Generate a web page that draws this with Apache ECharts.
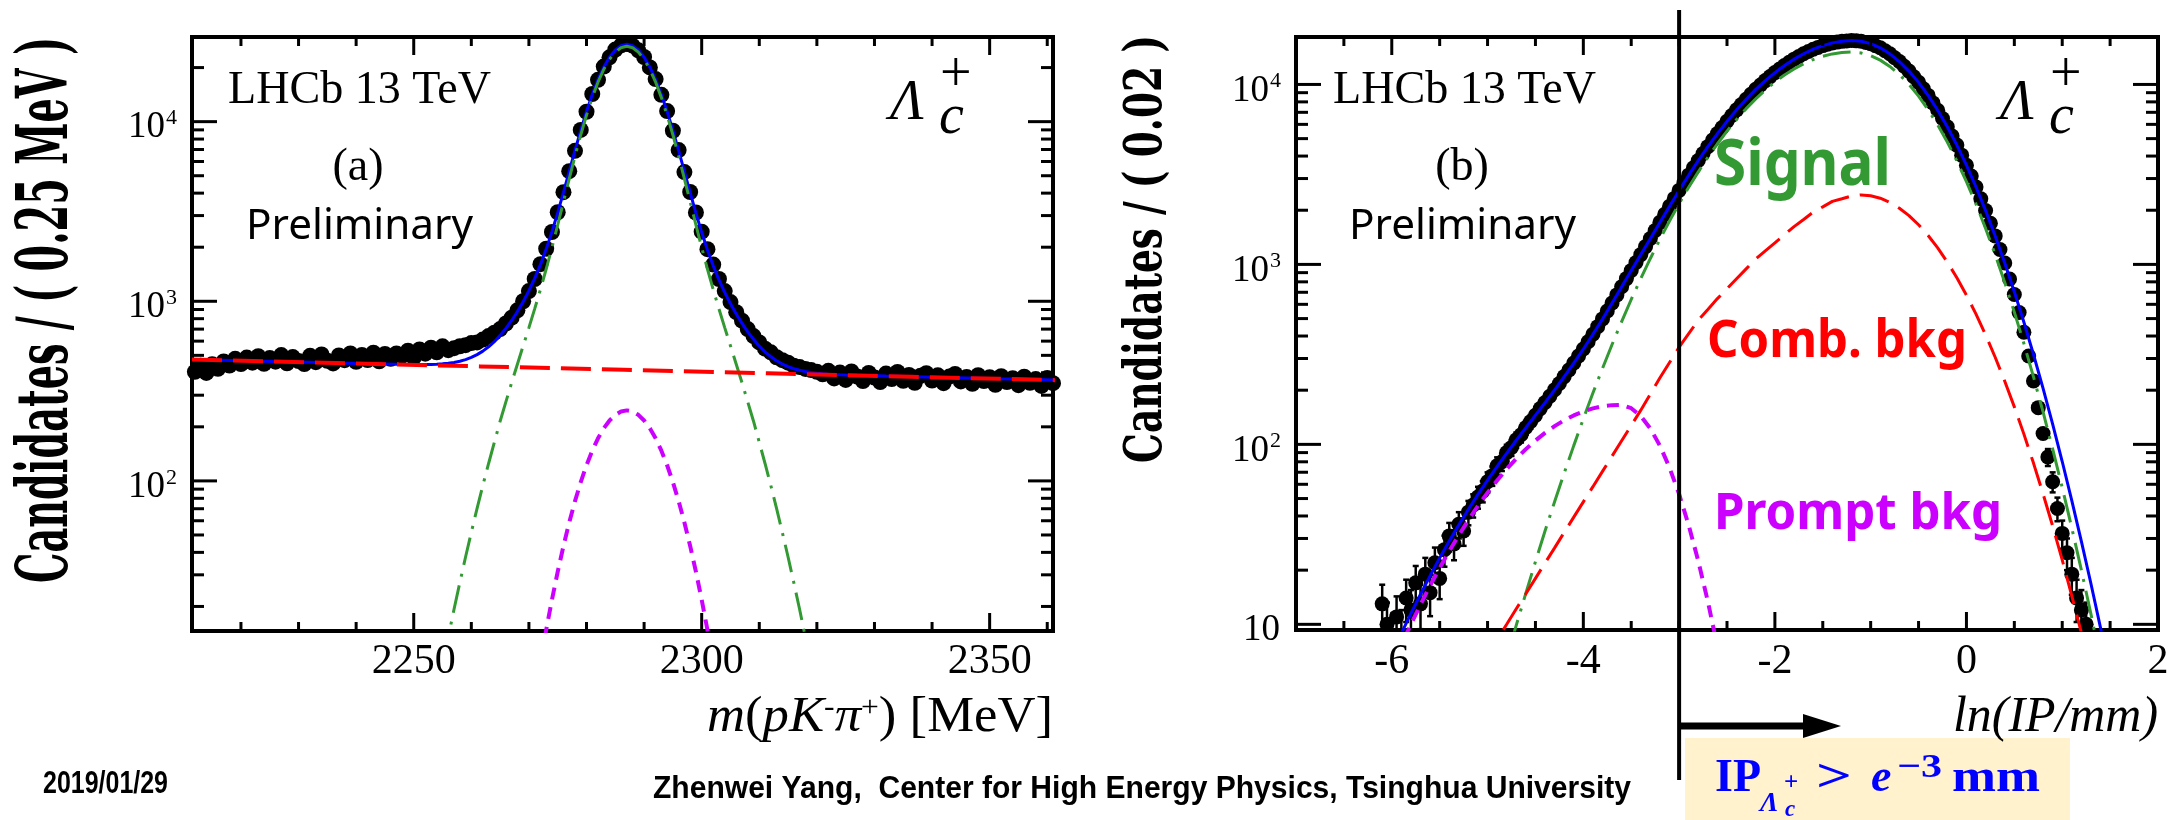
<!DOCTYPE html>
<html>
<head>
<meta charset="utf-8">
<title>Lambda_c+ fits</title>
<script src="https://cdn.jsdelivr.net/npm/echarts@6.0.0/dist/echarts.min.js"></script>
<style>
html,body{margin:0;padding:0;background:#ffffff;}
#chart{width:2174px;height:820px;}
</style>
</head>
<body>
<div id="chart"></div>
<script>
// ================= DATA =================
// ---- panel (a): m(pK-pi+) [MeV] ----
const massBinStart = 2212;
const massBinStep = 1;
const massCounts = [
  405,438,399,446,421,462,439,478,447,486,455,495,449,483,461,502,452,489,465,447,497,458,506,466,451,499,470,512,460,503,471,517,463,509,478,
  512,497,531,486,539,511,552,520,561,534,
  548,562,570,585,590,612,640,668,700,752,810,890,1000,1140,1330,1610,1960,2430,3130,4050,5300,6880,8990,11350,14250,17100,20250,22800,25200,26600,
  27100,
  26500,24950,22900,20050,17250,14100,11450,8900,6950,5240,4060,3120,2440,1950,1600,1330,1140,990,870,780,700,640,590,545,520,488,470,455,438,430,420,414,405,392,
  410,372,401,365,407,381,360,399,376,355,396,369,404,361,389,352,385,398,362,387,350,381,394,358,379,347,388,360,378,343,383,355,373,341,380,352,369,338,374,350
];
const massFitX = [
  2211.5,2222,2232,2242,
  2247,2248,2249,2250,2251,2252,2253,2254,2255,2256,2257,2258,2259,2260,2261,2262,2263,2264,2265,2266,2267,2268,2269,2270,2271,2272,2273,2274,2275,2276,2277,2278,2279,2280,2281,2282,2283,2284,2285,2286,
  2287,
  2288,2289,2290,2291,2292,2293,2294,2295,2296,2297,2298,2299,2300,2301,2302,2303,2304,2305,2306,2307,2308,2309,2310,2311,2312,2313,2314,2315,2316,2317,2318,2319,2320,2321,2322,2323,2324,2325,2326,2327,
  2332,2342,2352,2361.5
];
const massFitTotal = [
  474,465,457,449,
  445.5,445.0,444.4,444.1,444.0,444.2,444.9,446.2,448.3,451.7,456.7,463.7,473.5,486.8,504.6,527.9,557.8,596,646.2,705.8,782.0,876.7,995.2,1144.8,1339.9,1598.7,1952,2439,3114,4040,5286,6910,8949,11392,14177,17171,20144,22854,25050,26469,
  26962,
  26468,25047,22850,20138,17164,14168,11382,8938,6896,5271,4024,3096,2420,1932,1577,1316,1120,969,849,753.6,675.1,614,562.4,522.7,491.3,466.5,447.2,432.5,421.2,412.7,406.2,401.4,397.8,395.0,392.9,391.2,389.9,388.7,387.7,386.8,
  383.2,376.5,369.9,364
];
const massSignalStart = 2252;
const massSignal = [
  2.9,4.4,6.5,9.4,13.5,19.3,27.1,37.7,51.7,70.3,94.4,125,164,214.9,275.3,352.3,446.4,564.7,713.5,907,1163,1512,1993,2659,3574,4805,6411,8430,10850,13610,16580,19530,22220,24400,25810,
  26300,
  25810,24400,22220,19530,16580,13610,10850,8430,6411,4805,3574,2659,1993,1512,1163,907,713.5,564.7,446.4,352.3,275.3,214.9,164,125,94.4,70.3,51.7,37.7,27.1,19.3,13.5,9.4,6.5,4.4,2.9
];
const massPromptStart = 2271;
const massPrompt = [6.2,9.7,14.8,21.8,31.2,43.4,58.7,77.1,98.5,122.2,147.3,172.5,196.3,217,233.2,243.5,247,243.5,233.2,217,196.3,172.5,147.3,122.2,98.5,77.1,58.7,43.4,31.2,21.8,14.8,9.7,6.2];
const massCombX = [2211.5,2236.5,2261.5,2286.5,2311.5,2336.5,2361.5];
const massComb = [474,453.5,434,415.2,397.3,380.1,363.7];

// ---- panel (b): ln(IP/mm) ----
const ipBinStart = -6.15;
const ipBinStep = 0.05;
const ipCounts = [
  6,13,10,8,11,9,14,12,17,13,19,15,22,18,26,31,28,36,33,42,46,51,55,62,67,76,80,90,96,106,113,124,134,
  145,158,171,185,201,218,238,259,283,310,339,372,409,451,498,551,610,677,751,834,925,1024,1134,1256,1392,1544,1713,1898,2102,2327,2577,
  2841,3132,3440,3779,4129,4512,4906,5334,5769,6240,6715,7226,7735,8280,8818,9390,9932,10506,11058,11638,12182,12752,13276,13822,14306,14808,15246,15700,16065,16439,16727,17019,17187,17357,17446,17535,17463,17392,17121,16855,
  16413,15983,15381,14802,14084,13402,12611,11866,11040,10271,9449,8692,7896,7192,6468,5817,5173,4601,4047,3559,3095,2692,2315,1991,1693,1440,1211,1019,830,680,540,420,310,225,160,115,
  85,62,44,32,25,19,14,12,10
];
const ipErrLow = [2.4,3.6,3.2,2.8,3.3,3.0,3.7,3.5,4.1,3.6,4.4,3.9,4.7,4.2,5.1,5.6,5.3,6.0,5.7,6.5,6.8,7.1,7.4,7.9,8.2,8.7,8.9,9.5,9.8,10.3,10.6,11.1,11.6];
const ipErrHigh = [9.2,7.9,6.6,5.7,5.0,4.4,3.7,3.5,3.2];
const ipFitStart = -6.2;
const ipFitStep = 0.1;
const ipFitTotal = [
  3.9,5.2,6.8,8.9,11.5,14.7,18.6,23.4,29.0,35.7,
  43.6,52.7,63.3,75.4,89.4,105.4,123.8,145.3,170.7,200.9,
  237.7,282.6,338.9,409.4,497.8,610.2,751.3,924.6,1134,1392,
  1713,2102,2577,3132,3779,4512,5334,6240,7226,8280,
  9390,10506,11638,12752,13822,14808,15700,16439,17019,17357,
  17535,17392,16855,15983,14802,13402,11866,10271,8692,7192,
  5817,4601,3559,2692,1991,1440,1019,704.9,477.1,315.8,
  204.5,129.6,80.3,48.7,28.9,16.8,9.55,5.3,2.9
];
const ipSignal = [
  0.005,0.009,0.015,0.03,0.05,0.08,0.14,0.24,0.39,0.64,
  1.05,1.68,2.67,4.18,6.46,9.89,14.9,22.3,33.0,48.0,
  69.2,98.4,138.6,192.8,264.2,358.9,480.8,638.3,835.6,1079,
  1380,1743,2177,2684,3267,3936,4681,5503,6392,7335,
  8318,9317,10320,11290,12200,13030,13750,14350,14780,15040,
  15136,14960,14450,13650,12590,11350,10000,8610,7244,5957,
  4786,3758,2884,2163,1585,1135,794.3,543.3,363.1,237.1,
  151.4,94.4,57.5,34.3,20.0,11.4,6.31,3.43,1.82
];
const ipComb = [
  0.65,0.79,0.95,1.16,1.41,1.72,2.09,2.54,3.09,3.76,
  4.57,5.56,6.76,8.22,10.0,12.2,14.8,18.0,21.9,26.6,
  32.4,39.4,47.9,58.2,70.8,86.1,104.7,127.4,154.9,190.5,
  234.4,285.1,346.7,412.1,489.8,562.3,645.7,732.8,831.8,944.1,
  1072,1189,1318,1462,1622,1778,1950,2089,2239,2317,
  2399,2432,2405,2333,2212,2052,1866,1661,1448,1235,
  1031,843.3,675.1,529.2,406.0,304.9,224.4,161.6,114.0,78.7,
  53.1,35.2,22.8,14.4,8.97,5.45,3.24,1.89,1.08
];
const ipPrompt = [
  3.25,4.39,5.84,7.69,10.0,12.9,16.4,20.6,25.5,31.3,
  38.0,45.5,53.9,63.0,72.9,83.3,94.1,105.0,115.8,126.3,
  136.1,144.8,152.4,158.4,162.8,165.2,165.8,158.9,143.7,122.4,
  98.2,74.2,52.9,35.5,22.5,13.4,7.5,4.0,2.0
];
const ipCut = -3;

// ---- ticks ----
const massTicksMajor = [2250, 2300, 2350];
const massTicksMinor = [2220,2230,2240,2260,2270,2280,2290,2310,2320,2330,2340,2360];
const ipTicksMajor = [-6, -4, -2, 0, 2];
const ipTicksMinor = [-6.5,-5.5,-5,-4.5,-3.5,-3,-2.5,-1.5,-1,-0.5,0.5,1,1.5];
const countTicksA = [100, 1000, 10000];
const countTicksB = [10, 100, 1000, 10000];
const countMinorA = [20,30,40,50,60,70,80,90,200,300,400,500,600,700,800,900,2000,3000,4000,5000,6000,7000,8000,9000,20000];
const countMinorB = [20,30,40,50,60,70,80,90,200,300,400,500,600,700,800,900,2000,3000,4000,5000,6000,7000,8000,9000];

// ================= STYLE =================
const SERIF = '"Liberation Serif", "Times New Roman", serif';
const BLUE = '#0000ff', RED = '#ff0000', GREEN = '#339933', MAG = '#cc00ff';

const pos = (start, step, i) => +(start + i * step).toFixed(4);
const massData = massCounts.map((v, i) => [pos(massBinStart, massBinStep, i), v]);
const massFit = massFitX.map((x, i) => [x, massFitTotal[i]]);
const massSig = massSignal.map((v, i) => [massSignalStart + i, v]);
const massPro = massPrompt.map((v, i) => [massPromptStart + i, v]);
const massBkg = massCombX.map((x, i) => [x, massComb[i]]);

const ipData = ipCounts.map((v, i) => [pos(ipBinStart, ipBinStep, i), v]);
const ipErrData = [];
ipErrLow.forEach((e, i) => ipErrData.push([pos(ipBinStart, ipBinStep, i), ipCounts[i], e]));
ipErrHigh.forEach((e, k) => { const i = ipCounts.length - ipErrHigh.length + k; ipErrData.push([pos(ipBinStart, ipBinStep, i), ipCounts[i], e]); });
const ipFit = ipFitTotal.map((v, i) => [pos(ipFitStart, ipFitStep, i), v]);
const ipSig = ipSignal.map((v, i) => [pos(ipFitStart, ipFitStep, i), v]);
const ipBkg = ipComb.map((v, i) => [pos(ipFitStart, ipFitStep, i), v]);
const ipPro = ipPrompt.map((v, i) => [pos(ipFitStart, ipFitStep, i), v]);

function tickItems(xMaj, xMin, yMaj, yMin, xRef, yRef) {
  const out = [];
  xMaj.forEach(v => out.push([v, yRef, 0]));
  xMin.forEach(v => out.push([v, yRef, 1]));
  yMaj.forEach(v => out.push([xRef, v, 2]));
  yMin.forEach(v => out.push([xRef, v, 3]));
  return out;
}
function tickRender(params, api) {
  const cs = params.coordSys;
  const kind = api.value(2);
  const st = { stroke: '#000', lineWidth: 3 };
  if (kind < 2) {
    const px = api.coord([api.value(0), api.value(1)])[0];
    const len = kind === 0 ? 18 : 9;
    return { type: 'group', children: [
      { type: 'line', shape: { x1: px, y1: cs.y + cs.height, x2: px, y2: cs.y + cs.height - len }, style: st },
      { type: 'line', shape: { x1: px, y1: cs.y, x2: px, y2: cs.y + len }, style: st }
    ]};
  }
  const py = api.coord([api.value(0), api.value(1)])[1];
  const len = kind === 2 ? 25 : 12;
  return { type: 'group', children: [
    { type: 'line', shape: { x1: cs.x, y1: py, x2: cs.x + len, y2: py }, style: st },
    { type: 'line', shape: { x1: cs.x + cs.width, y1: py, x2: cs.x + cs.width - len, y2: py }, style: st }
  ]};
}
function errRender(params, api) {
  const cs = params.coordSys;
  const u = api.value(0), v = api.value(1), e = api.value(2);
  const top = api.coord([u, v + e]);
  const bot = api.coord([u, Math.max(v - e, 0.5)]);
  const x = top[0];
  const y1 = Math.max(top[1], cs.y), y2 = Math.min(bot[1], cs.y + cs.height);
  if (y1 >= y2) return null;
  const st = { stroke: '#000', lineWidth: 2.5 };
  const ch = [{ type: 'line', shape: { x1: x, y1: y1, x2: x, y2: y2 }, style: st }];
  if (top[1] >= cs.y) ch.push({ type: 'line', shape: { x1: x - 3, y1: y1, x2: x + 3, y2: y1 }, style: st });
  if (bot[1] <= cs.y + cs.height) ch.push({ type: 'line', shape: { x1: x - 3, y1: y2, x2: x + 3, y2: y2 }, style: st });
  return { type: 'group', children: ch };
}

const hide = { axisLine: { show: false }, axisTick: { show: false }, splitLine: { show: false }, minorTick: { show: false }, axisLabel: { show: false } };

const chart = echarts.init(document.getElementById('chart'), null, { renderer: 'canvas', width: 2174, height: 820 });
chart.setOption({
  animation: false,
  backgroundColor: '#ffffff',
  grid: [
    { left: 192, top: 37, width: 861, height: 594, show: true, borderColor: '#000', borderWidth: 4, backgroundColor: 'rgba(0,0,0,0)', containLabel: false },
    { left: 1296, top: 37, width: 862, height: 593, show: true, borderColor: '#000', borderWidth: 4, backgroundColor: 'rgba(0,0,0,0)', containLabel: false }
  ],
  xAxis: [
    Object.assign({ gridIndex: 0, type: 'value', min: 2211.5, max: 2361 }, hide),
    Object.assign({ gridIndex: 1, type: 'value', min: -7, max: 2 }, hide)
  ],
  yAxis: [
    Object.assign({ gridIndex: 0, type: 'log', logBase: 10, min: 14.6, max: 29600 }, hide),
    Object.assign({ gridIndex: 1, type: 'log', logBase: 10, min: 9.3, max: 18350 }, hide)
  ],
  series: [
    // ---- panel (a)
    { type: 'scatter', xAxisIndex: 0, yAxisIndex: 0, data: massData, symbol: 'circle', symbolSize: 16, itemStyle: { color: '#000', opacity: 1 }, z: 2, silent: true },
    { type: 'line', xAxisIndex: 0, yAxisIndex: 0, data: massFit, symbol: 'none', lineStyle: { color: BLUE, width: 3 }, z: 4, silent: true },
    { type: 'line', xAxisIndex: 0, yAxisIndex: 0, data: massSig, symbol: 'none', lineStyle: { color: GREEN, width: 3, type: [28, 9, 3, 9] }, z: 5, silent: true },
    { type: 'line', xAxisIndex: 0, yAxisIndex: 0, data: massBkg, symbol: 'none', lineStyle: { color: RED, width: 4, type: [30, 11] }, z: 6, silent: true },
    { type: 'line', xAxisIndex: 0, yAxisIndex: 0, data: massPro, symbol: 'none', lineStyle: { color: MAG, width: 4, type: [12, 8] }, z: 5, silent: true },
    { type: 'custom', xAxisIndex: 0, yAxisIndex: 0, renderItem: tickRender, data: tickItems(massTicksMajor, massTicksMinor, countTicksA, countMinorA, 2300, 100), z: 10, silent: true, clip: false },
    // ---- panel (b)
    { type: 'scatter', xAxisIndex: 1, yAxisIndex: 1, data: ipData, symbol: 'circle', symbolSize: 15, itemStyle: { color: '#000', opacity: 1 }, z: 2, silent: true },
    { type: 'custom', xAxisIndex: 1, yAxisIndex: 1, renderItem: errRender, data: ipErrData, z: 2, silent: true },
    { type: 'line', xAxisIndex: 1, yAxisIndex: 1, data: ipFit, symbol: 'none', lineStyle: { color: BLUE, width: 3 }, z: 4, silent: true },
    { type: 'line', xAxisIndex: 1, yAxisIndex: 1, data: ipSig, symbol: 'none', lineStyle: { color: GREEN, width: 3, type: [28, 9, 3, 9] }, z: 5, silent: true },
    { type: 'line', xAxisIndex: 1, yAxisIndex: 1, data: ipBkg, symbol: 'none', lineStyle: { color: RED, width: 3, type: [30, 11] }, z: 6, silent: true },
    { type: 'line', xAxisIndex: 1, yAxisIndex: 1, data: ipPro, symbol: 'none', lineStyle: { color: MAG, width: 4, type: [12, 8] }, z: 5, silent: true },
    { type: 'custom', xAxisIndex: 1, yAxisIndex: 1, renderItem: tickRender, data: tickItems(ipTicksMajor, ipTicksMinor, countTicksB, countMinorB, 0, 100), z: 10, silent: true, clip: false }
  ]
});

// ================= annotations / labels =================
const mctx = document.createElement('canvas').getContext('2d');
function tw(font, s) { mctx.font = font; return mctx.measureText(s).width; }
function txt(o) {
  const sx = o.width ? o.width / tw(o.font, o.text) : 1;
  return { type: 'text', x: o.x, y: o.y, scaleX: sx, rotation: o.rotation || 0, z: 100, silent: true,
    style: { text: o.text, font: o.font, fill: o.fill || '#000', align: o.align || 'left', verticalAlign: 'middle' } };
}
function lambdaC(x0) {
  return [
    txt({ text: 'Λ', font: 'italic 56px ' + SERIF, x: x0, y: 104 }),
    txt({ text: 'c', font: 'italic 56px ' + SERIF, x: x0 + 49, y: 118 }),
    txt({ text: '+', font: '56px ' + SERIF, x: x0 + 50, y: 76 })
  ];
}
function richTitle(x, y, width, text, rich) {
  let w = 0;
  text.replace(/\{(\w)\|([^}]*)\}/g, (m, k, s) => { const r = rich[k]; w += tw((r.fontStyle || '') + ' ' + r.fontSize + 'px ' + SERIF, s); return m; });
  return { type: 'text', x: x, y: y, scaleX: width / w, z: 100, silent: true,
    style: { text: text, rich: rich, align: 'right', verticalAlign: 'middle', fill: '#000' } };
}
const xr = {
  i: { fontFamily: SERIF, fontStyle: 'italic', fontSize: 50, lineHeight: 60, fill: '#000' },
  n: { fontFamily: SERIF, fontSize: 50, lineHeight: 60, fill: '#000' },
  s: { fontFamily: SERIF, fontSize: 30, lineHeight: 30, padding: [0, 0, 20, 0], fill: '#000' }
};

// tick labels placed through the axes' own scales
const tickLabels = [];
massTicksMajor.forEach(v => tickLabels.push(txt({ text: String(v), font: '42px ' + SERIF, x: chart.convertToPixel({ xAxisIndex: 0 }, v), y: 662, align: 'center' })));
ipTicksMajor.forEach(v => tickLabels.push(txt({ text: String(v), font: '42px ' + SERIF, x: chart.convertToPixel({ xAxisIndex: 1 }, v), y: 662, align: 'center' })));
function powLabel(axisIndex, axisX, v, dy) {
  const py = chart.convertToPixel({ yAxisIndex: axisIndex }, v);
  if (v === 10) return [txt({ text: '10', font: '37px ' + SERIF, x: axisX - 16, y: py + 6, align: 'right' })];
  const e = String(Math.round(Math.log10(v)));
  const supFont = '22px ' + SERIF;
  return [
    txt({ text: e, font: supFont, x: axisX - 15, y: py - 3, align: 'right' }),
    txt({ text: '10', font: '37px ' + SERIF, x: axisX - 16 - tw(supFont, e), y: py + dy, align: 'right' })
  ];
}
countTicksA.forEach(v => tickLabels.push(...powLabel(0, 192, v, 6)));
countTicksB.forEach(v => tickLabels.push(...powLabel(1, 1296, v, 7)));

const xCut = chart.convertToPixel({ xAxisIndex: 1 }, ipCut);
const gfx = [
  ...tickLabels,
  txt({ text: 'Candidates / ( 0.25 MeV )', font: 'bold 71px "DejaVu Serif"', x: 49, y: 310, width: 546, rotation: Math.PI / 2, align: 'center' }),
  txt({ text: 'Candidates / ( 0.02 )', font: 'bold 52px "DejaVu Serif"', x: 1147, y: 249, width: 428, rotation: Math.PI / 2, align: 'center' }),
  txt({ text: 'LHCb 13 TeV', font: '46px ' + SERIF, x: 228, y: 91, width: 263 }),
  txt({ text: 'LHCb 13 TeV', font: '46px ' + SERIF, x: 1333, y: 91, width: 263 }),
  txt({ text: '(a)', font: '46px ' + SERIF, x: 358, y: 168, align: 'center' }),
  txt({ text: '(b)', font: '46px ' + SERIF, x: 1462, y: 168, align: 'center' }),
  txt({ text: 'Preliminary', font: '42px "Noto Sans"', x: 246, y: 227, width: 227 }),
  txt({ text: 'Preliminary', font: '42px "Noto Sans"', x: 1349, y: 227, width: 227 }),
  ...lambdaC(890),
  ...lambdaC(2000),
  txt({ text: 'Signal', font: 'bold 64px "Noto Sans"', x: 1714, y: 167, width: 177, fill: GREEN }),
  txt({ text: 'Comb. bkg', font: 'bold 52px "Noto Sans"', x: 1707, y: 342, width: 260, fill: RED }),
  txt({ text: 'Prompt bkg', font: 'bold 50px "Noto Sans"', x: 1714, y: 515, width: 288, fill: MAG }),
  richTitle(1053, 718, 346, '{i|m}{n|(}{i|pK}{s|-}{i|π}{s|+}{n|) [MeV]}', xr),
  richTitle(2158, 718, 205, '{i|ln(IP/mm)}', xr),
  txt({ text: '2019/01/29', font: 'bold 32px "Liberation Sans"', x: 43, y: 784, width: 125 }),
  txt({ text: 'Zhenwei Yang,  Center for High Energy Physics, Tsinghua University', font: 'bold 31px "Liberation Sans"', x: 653, y: 789, width: 978 }),
  // selection cut
  { type: 'rect', shape: { x: 1685, y: 738, width: 385, height: 82 }, style: { fill: '#fff2cc' }, z: 90, silent: true },
  { type: 'line', shape: { x1: xCut, y1: 10, x2: xCut, y2: 780 }, style: { stroke: '#000', lineWidth: 4 }, z: 95, silent: true },
  { type: 'line', shape: { x1: xCut, y1: 726, x2: 1806, y2: 726 }, style: { stroke: '#000', lineWidth: 7 }, z: 95, silent: true },
  { type: 'polygon', shape: { points: [[1803, 714], [1841, 726], [1803, 738]] }, style: { fill: '#000' }, z: 95, silent: true },
  txt({ text: 'IP', font: 'bold 46px ' + SERIF, x: 1715, y: 779, fill: BLUE }),
  txt({ text: 'Λ', font: 'bold italic 28px ' + SERIF, x: 1760, y: 804, fill: BLUE }),
  txt({ text: 'c', font: 'bold italic 23px ' + SERIF, x: 1785, y: 810, fill: BLUE }),
  txt({ text: '+', font: 'bold 25px ' + SERIF, x: 1784, y: 784, fill: BLUE }),
  txt({ text: '>', font: 'bold 46px ' + SERIF, x: 1816, y: 779, width: 36, fill: BLUE }),
  txt({ text: 'e', font: 'bold italic 46px ' + SERIF, x: 1871, y: 779, fill: BLUE }),
  txt({ text: '−3', font: 'bold 34px ' + SERIF, x: 1897, y: 768, width: 45, fill: BLUE }),
  txt({ text: 'mm', font: 'bold 46px ' + SERIF, x: 1952, y: 779, width: 88, fill: BLUE })
];
chart.setOption({ graphic: gfx });
</script>
</body>
</html>
